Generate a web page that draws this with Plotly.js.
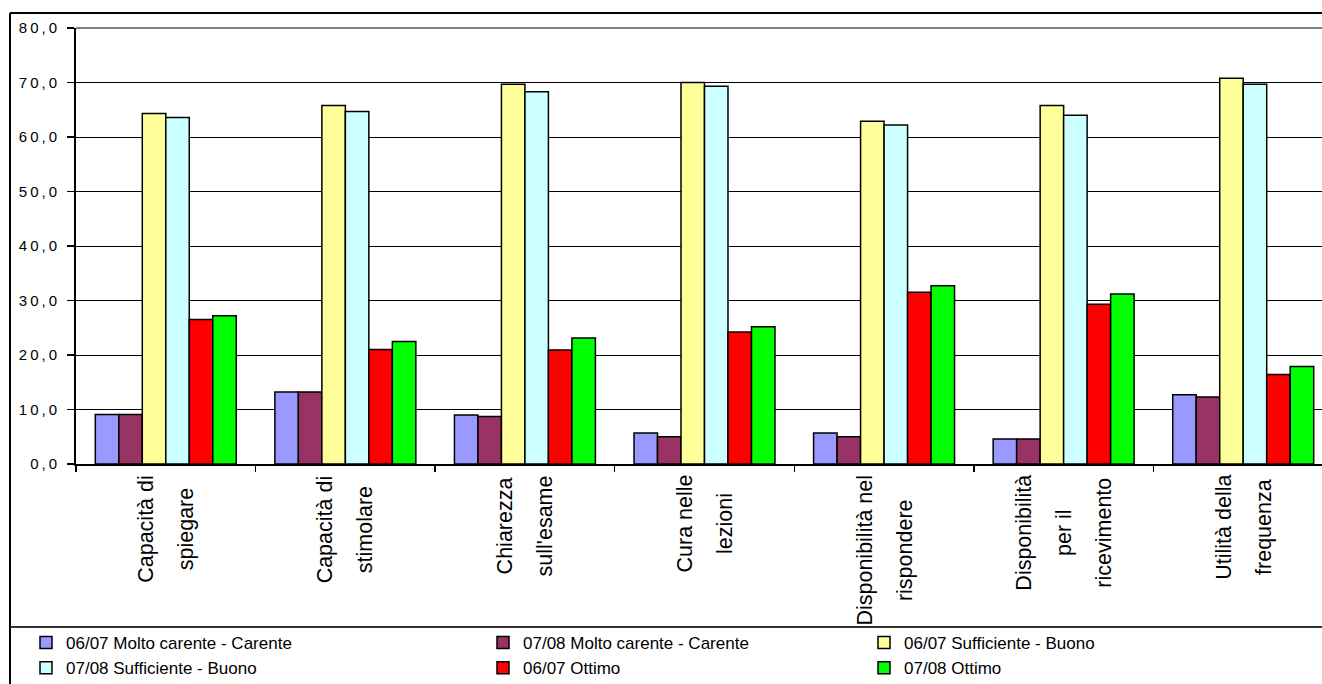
<!DOCTYPE html>
<html>
<head>
<meta charset="utf-8">
<script src="https://cdn.plot.ly/plotly-3.0.1.min.js"></script>
<style>
html, body { margin: 0; padding: 0; overflow: hidden; background: #fff; width: 1322px; height: 684px; }
#wrap { width: 1322px; height: 684px; overflow: hidden; position: relative; }
#chart { width: 1335px; height: 684px; position: absolute; left: 0; top: 0; }
#chart .ytick text { letter-spacing: 3px; }
</style>
</head>
<body>
<div id="wrap"><div id="chart"></div></div>
<script>
const categories = [
  "Capacità di<br>spiegare",
  "Capacità di<br>stimolare",
  "Chiarezza<br>sull'esame",
  "Cura nelle<br>lezioni",
  "Disponibilità nel<br>rispondere",
  "Disponibilità<br>per il<br>ricevimento",
  "Utilità della<br>frequenza"
];
const seriesNames = [
  "06/07 Molto carente - Carente",
  "07/08 Molto carente - Carente",
  "06/07 Sufficiente - Buono",
  "07/08 Sufficiente - Buono",
  "06/07 Ottimo",
  "07/08 Ottimo"
];
const molto0607 = [9.1, 13.2, 9.0, 5.7, 5.7, 4.6, 12.7];
const molto0708 = [9.1, 13.2, 8.7, 5.0, 5.0, 4.6, 12.3];
const suff0607 = [64.3, 65.8, 69.7, 70.0, 62.9, 65.8, 70.8];
const suff0708 = [63.6, 64.7, 68.3, 69.3, 62.2, 64.0, 69.7];
const ottimo0607 = [26.5, 21.0, 20.9, 24.2, 31.5, 29.3, 16.4];
const ottimo0708 = [27.2, 22.5, 23.1, 25.2, 32.7, 31.2, 17.9];
const yTicks = [0, 10, 20, 30, 40, 50, 60, 70, 80];

const seriesValues = [molto0607, molto0708, suff0607, suff0708, ottimo0607, ottimo0708];
const colors = ["#9999FF", "#993366", "#FFFF99", "#CCFFFF", "#FF0000", "#00FF00"];
const legendIds = ["legend", "legend2", "legend3", "legend", "legend2", "legend3"];

const traces = seriesValues.map((vals, i) => ({
  type: "bar",
  name: seriesNames[i],
  x: categories,
  y: vals,
  legend: legendIds[i],
  legendgroup: "g" + i,
  marker: { color: colors[i], line: { color: "#000", width: 1.5 } },
  hoverinfo: "y+name"
}));

const FONT = "Liberation Sans, Arial, sans-serif";

const annotations = categories.map(c => ({
  x: c, xref: "x",
  y: 0, yref: "paper",
  yanchor: "top", xanchor: "center",
  yshift: -9,
  textangle: -90,
  align: "center",
  showarrow: false,
  font: { family: FONT, size: 30.8, color: "#000" },
  text: c.split("<br>").map(s => '<span style="font-size:21.5px">' + s + '</span>').join("<br>")
}));

// paper coords helpers (plot area: x 76..1333, y 28..464)
const PL = 76, PW = 1257, PT = 28, PH = 436;
const px = v => (v - PL) / PW;
const py = v => (PT + PH - v) / PH;

const shapes = [
  { type: "line", xref: "paper", yref: "paper", x0: px(10), x1: px(1340), y0: py(13), y1: py(13), line: { color: "#000", width: 2 } },
  { type: "line", xref: "paper", yref: "paper", x0: px(10), x1: px(10), y0: py(13), y1: py(690), line: { color: "#000", width: 2 } },
  { type: "line", xref: "paper", yref: "paper", x0: px(10), x1: px(1340), y0: py(627), y1: py(627), line: { color: "#333", width: 2 } },
  { type: "line", xref: "paper", yref: "paper", x0: 0, x1: 1, y0: 1, y1: 1, line: { color: "#808080", width: 2 } }
];

const legendBase = {
  orientation: "v",
  xanchor: "left",
  yanchor: "top",
  y: py(625),
  bgcolor: "rgba(0,0,0,0)",
  borderwidth: 0,
  traceorder: "grouped",
  tracegroupgap: 0,
  font: { family: FONT, size: 17, color: "#000" }
};

const layout = {
  width: 1335,
  height: 684,
  margin: { l: PL, r: 1335 - PL - PW, t: PT, b: 684 - PT - PH, autoexpand: false },
  paper_bgcolor: "#fff",
  plot_bgcolor: "#fff",
  barmode: "group",
  bargap: 0.215,
  bargroupgap: 0,
  showlegend: true,
  font: { family: FONT, color: "#000" },
  xaxis: {
    type: "category",
    showticklabels: false,
    showline: true, linecolor: "#000", linewidth: 2,
    ticks: "outside", tickson: "boundaries", ticklen: 6, tickwidth: 1.5, tickcolor: "#000",
    showgrid: false, zeroline: false
  },
  yaxis: {
    range: [0, 80],
    tickvals: yTicks,
    tickformat: ".1f",
    showline: true, linecolor: "#000", linewidth: 2,
    ticks: "outside", ticklen: 7, tickwidth: 1.5, tickcolor: "#000",
    ticklabelstandoff: 4,
    showgrid: true, gridcolor: "#000", gridwidth: 1,
    zeroline: false,
    tickfont: { family: FONT, size: 15, color: "#000" }
  },
  separators: ",.",
  legend: Object.assign({}, legendBase, { x: px(26) }),
  legend2: Object.assign({}, legendBase, { x: px(483) }),
  legend3: Object.assign({}, legendBase, { x: px(864) }),
  annotations: annotations,
  shapes: shapes
};

Plotly.newPlot("chart", traces, layout, { displayModeBar: false, staticPlot: true });
</script>
</body>
</html>
